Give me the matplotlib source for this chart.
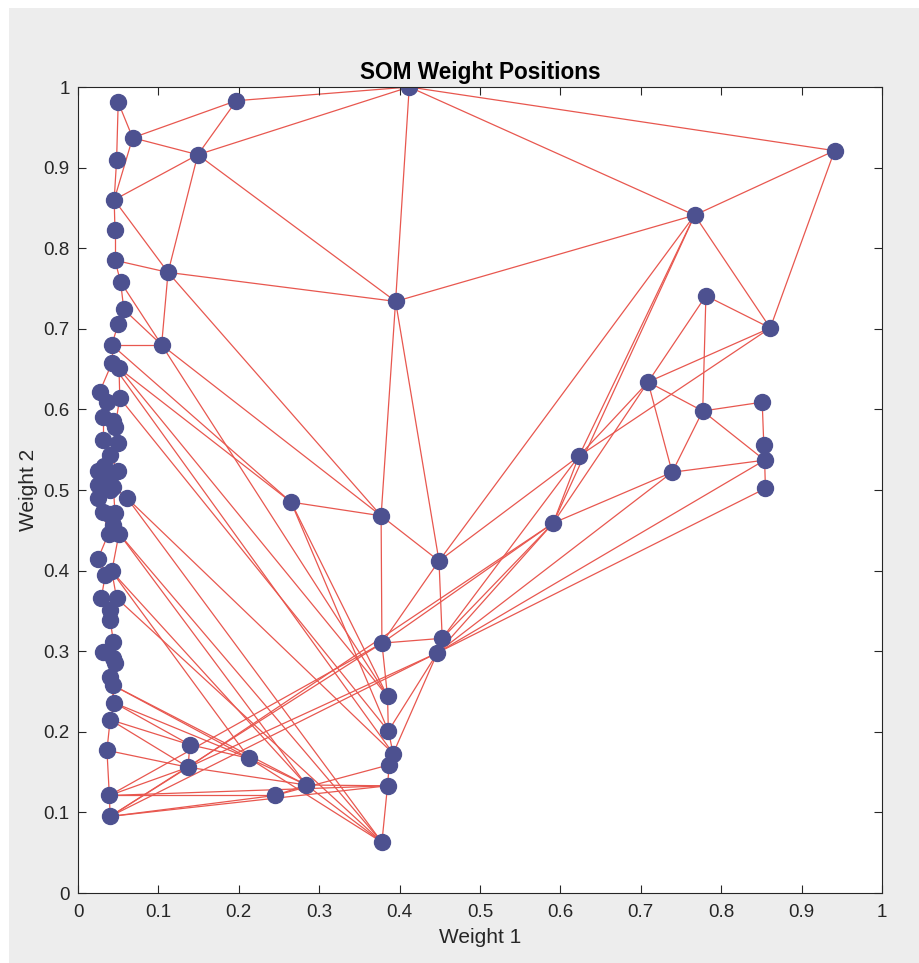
import matplotlib
matplotlib.use("Agg")
import matplotlib.pyplot as plt
from matplotlib.patches import Rectangle

# SOM neuron weight positions
weight1 = [0.050, 0.197, 0.068, 0.048, 0.149, 0.412, 0.941, 0.767, 0.045, 0.046,
           0.046, 0.112, 0.053, 0.057, 0.395, 0.050, 0.042, 0.104, 0.042, 0.051,
           0.027, 0.052, 0.036, 0.031, 0.046, 0.031, 0.050, 0.040, 0.025, 0.050,
           0.040, 0.025, 0.044, 0.061, 0.025, 0.031, 0.046, 0.038, 0.051, 0.025,
           0.034, 0.042, 0.029, 0.048, 0.040, 0.040, 0.044, 0.031, 0.044, 0.046,
           0.040, 0.043, 0.045, 0.040, 0.036, 0.039, 0.040, 0.139, 0.137, 0.213,
           0.245, 0.284, 0.378, 0.385, 0.387, 0.392, 0.386, 0.385, 0.378, 0.447,
           0.453, 0.449, 0.377, 0.265, 0.591, 0.623, 0.739, 0.709, 0.777, 0.781,
           0.861, 0.851, 0.853, 0.854, 0.855, 0.044, 0.032, 0.040, 0.043, 0.038]
weight2 = [0.981, 0.983, 0.937, 0.909, 0.916, 1.000, 0.921, 0.841, 0.860, 0.822,
           0.785, 0.770, 0.758, 0.724, 0.734, 0.706, 0.680, 0.680, 0.657, 0.651,
           0.622, 0.614, 0.609, 0.591, 0.578, 0.562, 0.558, 0.543, 0.523, 0.523,
           0.516, 0.506, 0.504, 0.490, 0.490, 0.473, 0.471, 0.446, 0.446, 0.415,
           0.395, 0.399, 0.366, 0.366, 0.351, 0.339, 0.312, 0.299, 0.291, 0.285,
           0.268, 0.258, 0.236, 0.215, 0.177, 0.121, 0.095, 0.184, 0.156, 0.167,
           0.121, 0.134, 0.063, 0.133, 0.159, 0.173, 0.201, 0.244, 0.310, 0.298,
           0.316, 0.412, 0.468, 0.485, 0.459, 0.542, 0.522, 0.634, 0.598, 0.741,
           0.701, 0.609, 0.556, 0.537, 0.502, 0.456, 0.530, 0.500, 0.585, 0.470]

# neighbour connections (neuron index pairs)
edge_from = [0, 0, 1, 1, 1, 2, 2, 3, 4, 4, 4, 4, 5, 5, 5, 14, 14, 14, 14, 6, 6, 7, 7, 7, 71,
             8, 9, 10, 12, 13, 15, 16, 18, 19, 18, 20, 21, 22, 23, 24, 25, 26, 27, 27, 28, 29,
             30, 31, 32, 32, 34, 35, 36, 37, 38, 39, 40, 41, 42, 43, 44, 45, 46, 46, 47, 48,
             49, 50, 51, 52, 53, 54, 55, 24, 88, 85, 86, 87, 89,
             8, 10, 11, 12, 13, 16, 11,
             16, 19, 17, 17, 19, 18, 21,
             33, 33, 38, 38, 41, 41, 43, 51, 51, 52, 52, 53, 53, 54, 55, 55, 55, 56, 56, 56,
             56, 56, 55, 58, 58, 57, 57, 58, 59, 59, 60, 60, 61, 61, 63,
             68, 67, 66, 65, 64, 68, 68, 69, 71, 69, 69, 69, 69, 69, 69, 70, 70, 73, 73, 73,
             72, 71, 74, 74, 74, 75, 75, 76, 77, 77, 77, 78, 79, 78, 78, 78, 81, 82, 83, 83, 68,
             7]
edge_to = [2, 3, 2, 4, 5, 4, 8, 8, 5, 8, 11, 14, 14, 6, 7, 11, 7, 72, 71, 7, 80, 80, 71, 75, 68,
           9, 10, 12, 13, 15, 16, 18, 19, 21, 20, 22, 24, 23, 25, 26, 27, 27, 28, 29, 31, 32,
           32, 34, 33, 36, 35, 37, 38, 39, 41, 40, 42, 43, 44, 44, 45, 46, 47, 48, 49, 50,
           51, 52, 52, 53, 54, 55, 56, 88, 26, 37, 27, 30, 35,
           11, 11, 17, 17, 17, 17, 72,
           73, 73, 72, 67, 67, 65, 66,
           62, 65, 62, 61, 61, 59, 62, 59, 61, 57, 59, 57, 58, 58, 58, 63, 60, 58, 60, 63,
           68, 69, 68, 69, 74, 59, 58, 61, 61, 62, 61, 64, 63, 62, 62,
           67, 66, 65, 64, 63, 70, 72, 70, 70, 66, 65, 76, 83, 84, 74, 75, 74, 72, 67, 66,
           71, 75, 75, 76, 77, 77, 80, 77, 78, 79, 80, 79, 80, 76, 81, 83, 82, 83, 76, 84, 74,
           74]

line_color = "#e8574f"
node_color = "#4d5190"
W, H = 919, 963

fig = plt.figure(figsize=(W / 100, H / 100), dpi=100, facecolor="white")
bg = Rectangle((9 / W, 0), 1 - 9 / W, 1 - 8 / H, transform=fig.transFigure,
               facecolor="#ededed", edgecolor="none", zorder=-10)
fig.add_artist(bg)
ax = fig.add_axes([78 / W, 70 / H, 804 / W, 806 / H])
ax.set_zorder(1)
ax.set_facecolor("white")

for a, b in zip(edge_from, edge_to):
    ax.plot([weight1[a], weight1[b]], [weight2[a], weight2[b]],
            color=line_color, linewidth=0.9, zorder=1)
ax.plot(weight1, weight2, linestyle="none", marker="o", markersize=11.5,
        markerfacecolor=node_color, markeredgecolor=node_color, zorder=2)

ax.set_xlim(0, 1)
ax.set_ylim(0, 1)
ticks = [0, 0.1, 0.2, 0.3, 0.4, 0.5, 0.6, 0.7, 0.8, 0.9, 1]
tick_labels = ["0", "0.1", "0.2", "0.3", "0.4", "0.5", "0.6", "0.7", "0.8", "0.9", "1"]
ax.set_xticks(ticks)
ax.set_xticklabels(tick_labels)
ax.set_yticks(ticks)
ax.set_yticklabels(tick_labels)
ax.tick_params(direction="in", top=True, right=True, length=6, width=0.8,
               color="#262626", labelsize=13.5, labelcolor="#262626")
ax.tick_params(axis="x", pad=8)
ax.tick_params(axis="y", pad=6)
for s in ax.spines.values():
    s.set_color("#262626")
    s.set_linewidth(0.8)

font = "Liberation Sans"
for lab in ax.get_xticklabels() + ax.get_yticklabels():
    lab.set_family(font)
ax.set_xlabel("Weight 1", fontsize=15, family=font, color="#262626", labelpad=5)
ax.set_ylabel("Weight 2", fontsize=15, family=font, color="#262626", labelpad=4)
ax.set_title("SOM Weight Positions", fontsize=16.3, fontweight="bold", family=font,
             color="black", pad=6)

fig.savefig("out.png", dpi=100, facecolor=fig.get_facecolor())
